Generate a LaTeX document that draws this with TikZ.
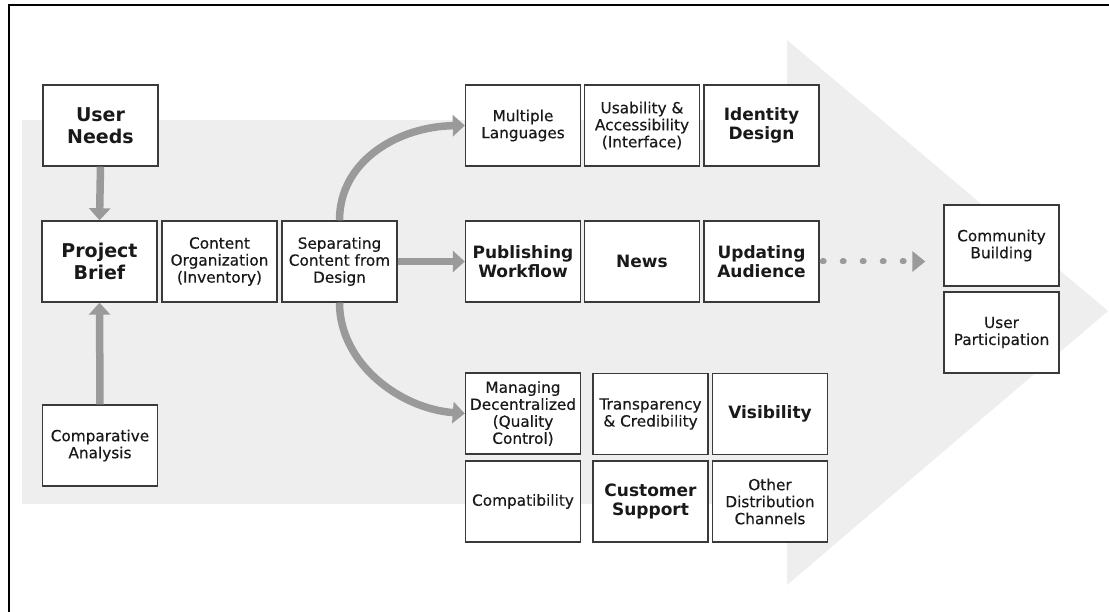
\documentclass[tikz,border=0pt]{standalone}
\usepackage{fontspec}
\setmainfont{DejaVu Sans}
\newfontfamily\medfont{DejaVu Sans}[FakeBold=0.4]
\usetikzlibrary{arrows.meta}
\definecolor{bandgray}{HTML}{EEEEEE}
\definecolor{conngray}{HTML}{9A9A9A}
\definecolor{boxline}{HTML}{3A3A3A}
\tikzset{
 box/.style={draw=boxline, line width=1.4pt, fill=white, minimum width=115pt, minimum height=81pt, inner sep=1pt, align=center, text=black!90},
 txtsmall/.style={font=\medfont\fontsize{15.3}{17}\selectfont},
 txtbold/.style={font=\fontsize{17}{19.5}\selectfont\bfseries},
 txthuge/.style={font=\fontsize{19}{22}\selectfont\bfseries},
 conn/.style={draw=conngray, line width=7.5pt, -{Triangle[length=12pt,width=21pt]}},
 dotconn/.style={draw=conngray, line width=6pt, line cap=round, dash pattern=on 1pt off 19pt, dash phase=17pt, -{Triangle[length=13pt,width=20pt]}},
 frameline/.style={draw=black, line width=2pt}
}
\begin{document}
\begin{tikzpicture}[x=1pt,y=-1pt]
\useasboundingbox (0,0) rectangle (1109,612);
\fill[white] (0,0) rectangle (1109,612);
% big background arrow
\fill[bandgray] (22,120) rectangle (788,504);
\fill[bandgray] (787,40) -- (1108,311) -- (787,585) -- cycle;
% frame
\draw[frameline] (9,612) -- (9,5) -- (1109,5);
% left column
\node[box, txthuge] (un) at (100.5,125.5) {User\\Needs};
\node[box, txthuge] (pb) at (99.5,261.5) {Project\\Brief};
\node[box, txtsmall] (co) at (219.5,261.5) {Content\\Organization\\(Inventory)};
\node[box, txtsmall] (sep) at (339.5,261.5) {Separating\\Content from\\Design};
\node[box, txtsmall] (ca) at (100,445.5) {Comparative\\Analysis};
% top row
\node[box, txtsmall] (ml) at (523,125.5) {Multiple\\Languages};
\node[box, txtsmall] (ua) at (642,125.5) {Usability \&\\Accessibility\\(Interface)};
\node[box, txtbold] (idd) at (761.5,125.5) {Identity\\Design};
% middle row
\node[box, txtbold] (pw) at (523,261.5) {Publishing\\Workflow};
\node[box, txtbold] (news) at (642,261.5) {News};
\node[box, txtbold] (upd) at (761.5,261.5) {Updating\\Audience};
% bottom block
\node[box, txtsmall] (md) at (523,413.5) {Managing\\Decentralized\\(Quality\\Control)};
\node[box, txtsmall] (tc) at (650.5,414) {Transparency\\\& Credibility};
\node[box, txtbold] (vis) at (770,414) {Visibility};
\node[box, txtsmall] (comp) at (523,501.5) {Compatibility};
\node[box, txtbold] (cs) at (650.5,501.5) {Customer\\Support};
\node[box, txtsmall] (odc) at (770,501.5) {Other\\Distribution\\Channels};
% right
\node[box, txtsmall] (cb) at (1001.5,245.5) {Community\\Building};
\node[box, txtsmall] (up) at (1001.5,332.5) {User\\Participation};
% connectors
\draw[conn] (un.south) -- (pb.north);
\draw[conn] (ca.north) -- (pb.south);
\draw[conn] (sep.east) -- (pw.west);
\draw[conn] (sep.north) .. controls +(0,-60) and +(-66,1) .. (ml.west);
\draw[conn] (sep.south) .. controls +(0,60) and +(-66,-5) .. (md.west);
\draw[dotconn] (upd.east) -- ([xshift=-18pt]cb.west |- upd.east);
\end{tikzpicture}
\end{document}
